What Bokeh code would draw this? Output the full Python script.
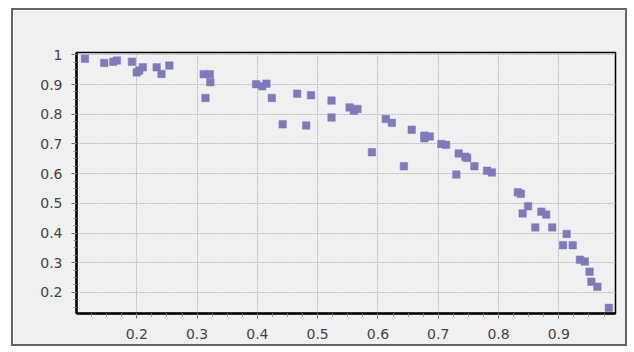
from bokeh.plotting import figure
from bokeh.models import FixedTicker, Range1d
from bokeh.embed import file_html
from bokeh.resources import INLINE

x_vals = [0.114, 0.146, 0.161, 0.167, 0.192, 0.200, 0.204, 0.210, 0.233, 0.241,
          0.254, 0.311, 0.321, 0.322, 0.314, 0.398, 0.408, 0.415, 0.424, 0.442,
          0.466, 0.481, 0.489, 0.523, 0.523, 0.553, 0.560, 0.566, 0.590, 0.613,
          0.623, 0.643, 0.656, 0.677, 0.677, 0.686, 0.705, 0.713, 0.730, 0.734,
          0.745, 0.748, 0.760, 0.781, 0.789, 0.832, 0.837, 0.849, 0.840, 0.871,
          0.879, 0.861, 0.889, 0.913, 0.907, 0.923, 0.935, 0.943, 0.951, 0.954,
          0.964, 0.983]
y_vals = [0.987, 0.973, 0.977, 0.981, 0.977, 0.941, 0.947, 0.958, 0.958, 0.936,
          0.964, 0.935, 0.935, 0.908, 0.855, 0.901, 0.894, 0.903, 0.855, 0.766,
          0.869, 0.762, 0.864, 0.846, 0.789, 0.823, 0.812, 0.818, 0.672, 0.784,
          0.771, 0.625, 0.748, 0.728, 0.719, 0.725, 0.700, 0.697, 0.597, 0.668,
          0.657, 0.653, 0.625, 0.610, 0.604, 0.537, 0.532, 0.490, 0.466, 0.472,
          0.462, 0.419, 0.419, 0.397, 0.359, 0.359, 0.310, 0.304, 0.270, 0.236,
          0.219, 0.148]

x_ticks = [0.2, 0.3, 0.4, 0.5, 0.6, 0.7, 0.8, 0.9]
y_ticks = [0.2, 0.3, 0.4, 0.5, 0.6, 0.7, 0.8, 0.9, 1.0]
x_minor = [round(0.1 + 0.025 * i, 3) for i in range(1, 40)]
y_minor = [round(0.125 + 0.025 * i, 3) for i in range(0, 36)]

p = figure(width=616, height=338, output_backend="svg", toolbar_location=None,
           x_range=Range1d(0.1, 0.994), y_range=Range1d(0.129, 1.008),
           min_border_left=63, min_border_top=42, min_border_right=14,
           min_border_bottom=35)
p.styles = {"margin-left": "11px", "margin-top": "8px", "border": "2px solid #666666"}
p.background_fill_color = "#f0f0f0"
p.border_fill_color = "#f0f0f0"
p.outline_line_color = "black"
p.outline_line_width = 1.5

p.xaxis.ticker = FixedTicker(ticks=x_ticks, minor_ticks=x_minor)
p.yaxis.ticker = FixedTicker(ticks=y_ticks, minor_ticks=y_minor)
p.yaxis.major_label_overrides = {1.0: "1"}

for ax in (p.xaxis, p.yaxis):
    ax.axis_line_color = "black"
    ax.axis_line_width = 2.5
    ax.major_tick_line_color = "#666666"
    ax.minor_tick_line_color = "#888888"
    ax.major_tick_out = 5
    ax.major_tick_in = 0
    ax.minor_tick_out = 3
    ax.minor_tick_in = 0
    ax.major_label_text_font = "DejaVu Sans"
    ax.major_label_text_font_size = "14px"
    ax.major_label_text_color = "#444444"
p.xaxis.major_label_standoff = 10
p.yaxis.major_label_standoff = 9

p.grid.grid_line_color = "#bdbdbd"
p.grid.grid_line_dash = "2 1"
p.grid.grid_line_width = 1

p.scatter(x_vals, y_vals, marker="square", size=7.5, fill_color="#7d7bba",
          line_color="#7d7bba", line_width=0.5)

open("out.html", "w").write(file_html(p, INLINE))
